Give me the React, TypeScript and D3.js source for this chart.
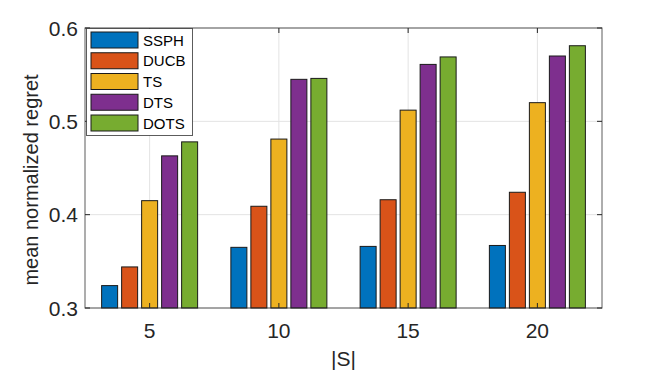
import React, { useEffect, useRef } from "react";
import * as d3 from "d3";

const sizes = [5, 10, 15, 20];
const seriesNames = ["SSPH", "DUCB", "TS", "DTS", "DOTS"];
const colors = ["#0072BD", "#D95319", "#EDB120", "#7E2F8E", "#77AC30"];
const ssph = [0.324, 0.365, 0.366, 0.367];
const ducb = [0.344, 0.409, 0.416, 0.424];
const ts = [0.415, 0.481, 0.512, 0.52];
const dts = [0.463, 0.545, 0.561, 0.57];
const dots = [0.478, 0.546, 0.569, 0.581];
const yTicks = [0.3, 0.4, 0.5, 0.6];

const FONT = "'Liberation Sans', Arial, Helvetica, sans-serif";

export default function App() {
  const ref = useRef<SVGSVGElement>(null);

  useEffect(() => {
    const svg = d3.select(ref.current);
    svg.selectAll("*").remove();

    const left = 85, right = 602, top = 28, bottom = 308;
    const values = [ssph, ducb, ts, dts, dots];

    const x = d3.scaleLinear().domain([2.5, 22.5]).range([left, right]);
    const y = d3.scaleLinear().domain([0.3, 0.6]).range([bottom, top]);

    svg.append("rect")
      .attr("x", left).attr("y", top)
      .attr("width", right - left).attr("height", bottom - top)
      .attr("fill", "#fff");

    // grid
    const grid = svg.append("g").attr("stroke", "#e3e3e3").attr("stroke-width", 1);
    sizes.forEach(s => {
      grid.append("line")
        .attr("x1", x(s)).attr("x2", x(s))
        .attr("y1", top).attr("y2", bottom);
    });
    yTicks.forEach(t => {
      grid.append("line")
        .attr("x1", left).attr("x2", right)
        .attr("y1", y(t)).attr("y2", y(t));
    });

    // bars
    const groupPx = 100;
    sizes.forEach((s, i) => {
      const inner = d3.scaleBand<string>()
        .domain(seriesNames)
        .range([x(s) - groupPx / 2, x(s) + groupPx / 2])
        .paddingInner(0.2)
        .paddingOuter(0.1);
      seriesNames.forEach((name, k) => {
        const v = values[k][i];
        svg.append("rect")
          .attr("x", inner(name)!)
          .attr("y", y(v))
          .attr("width", inner.bandwidth())
          .attr("height", y(0.3) - y(v))
          .attr("fill", colors[k])
          .attr("stroke", "#1a1a1a")
          .attr("stroke-width", 1);
      });
    });

    // box
    svg.append("rect")
      .attr("x", left).attr("y", top)
      .attr("width", right - left).attr("height", bottom - top)
      .attr("fill", "none")
      .attr("stroke", "#262626")
      .attr("stroke-opacity", 0.75)
      .attr("stroke-width", 1);

    // ticks
    const tl = 5;
    const ticks = svg.append("g").attr("stroke", "#262626").attr("stroke-width", 1);
    yTicks.forEach(t => {
      ticks.append("line").attr("x1", left).attr("x2", left + tl).attr("y1", y(t)).attr("y2", y(t));
      ticks.append("line").attr("x1", right).attr("x2", right - tl).attr("y1", y(t)).attr("y2", y(t));
    });
    sizes.forEach(s => {
      ticks.append("line").attr("x1", x(s)).attr("x2", x(s)).attr("y1", bottom).attr("y2", bottom - tl);
      ticks.append("line").attr("x1", x(s)).attr("x2", x(s)).attr("y1", top).attr("y2", top + tl);
    });

    const fs = 21;

    // tick labels
    svg.append("g").selectAll("text")
      .data(yTicks).enter().append("text")
      .attr("x", left - 7)
      .attr("y", d => y(d) + 7.5)
      .attr("text-anchor", "end")
      .attr("font-family", FONT)
      .attr("font-size", fs)
      .attr("fill", "#262626")
      .text(d => d.toFixed(1));

    svg.append("g").selectAll("text")
      .data(sizes).enter().append("text")
      .attr("x", d => x(d))
      .attr("y", bottom + 30)
      .attr("text-anchor", "middle")
      .attr("font-family", FONT)
      .attr("font-size", fs)
      .attr("fill", "#262626")
      .text(d => String(d));

    svg.append("text")
      .attr("x", (left + right) / 2)
      .attr("y", 366)
      .attr("text-anchor", "middle")
      .attr("font-family", FONT)
      .attr("font-size", fs)
      .attr("fill", "#262626")
      .text("|S|");

    svg.append("text")
      .attr("transform", `translate(38, ${(top + bottom) / 2 + 12}) rotate(-90)`)
      .attr("text-anchor", "middle")
      .attr("font-family", FONT)
      .attr("font-size", 20)
      .attr("fill", "#262626")
      .text("mean normalized regret");

    // legend
    const lg = svg.append("g");
    lg.append("rect")
      .attr("x", 86.5).attr("y", 28.5)
      .attr("width", 106).attr("height", 107)
      .attr("fill", "#fff")
      .attr("stroke", "#262626")
      .attr("stroke-opacity", 0.75);
    seriesNames.forEach((name, k) => {
      const cy = 40 + k * 20.75;
      lg.append("rect")
        .attr("x", 91).attr("y", cy - 8)
        .attr("width", 47).attr("height", 16)
        .attr("fill", colors[k])
        .attr("stroke", "#1a1a1a");
      lg.append("text")
        .attr("x", 143).attr("y", cy + 5.5)
        .attr("font-family", FONT)
        .attr("font-size", 15)
        .attr("fill", "#000")
        .text(name);
    });
  }, []);

  return (
    <svg
      ref={ref}
      width={664}
      height={373}
      style={{ position: "absolute", left: 0, top: 0, background: "#fff" }}
    />
  );
}
